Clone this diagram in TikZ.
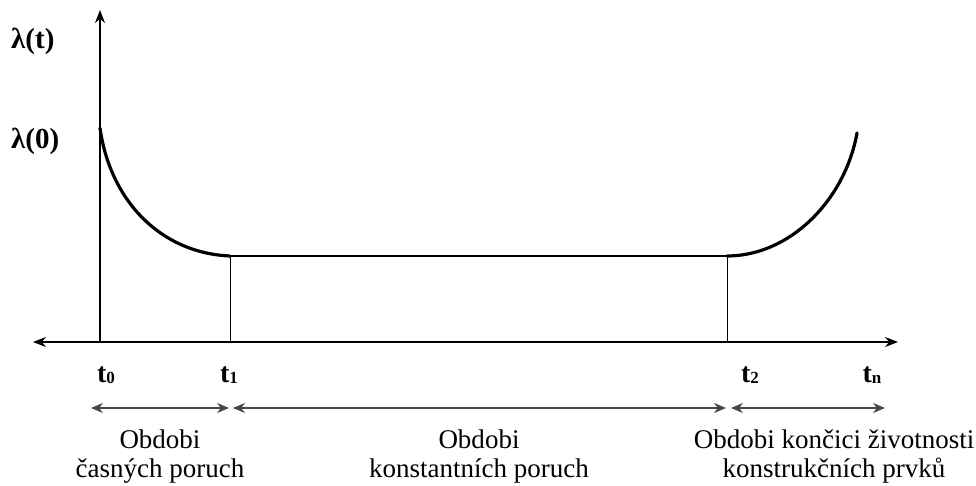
\documentclass[tikz,border=0pt]{standalone}
\usepackage{fontspec}
\setmainfont{Liberation Serif}
\usetikzlibrary{arrows.meta}
\begin{document}
\begin{tikzpicture}[x=1pt,y=-1pt,
  axisline/.style={line width=1.4pt,black,-{Stealth[length=13pt,width=10pt]}},
  curveline/.style={line width=3.2pt,black,line cap=round},
  flatline/.style={line width=2.2pt,black},
  marker/.style={line width=1pt,black},
  span/.style={line width=1.8pt,black!72,{Stealth[length=12pt,width=10pt]}-{Stealth[length=12pt,width=10pt]}},
  axislabel/.style={font=\fontsize{29}{30}\selectfont\bfseries,inner sep=0pt,anchor=west},
  tick/.style={font=\fontsize{28}{30}\selectfont\bfseries,inner sep=0pt,anchor=base},
  period/.style={font=\fontsize{27}{29}\selectfont,inner sep=0pt,anchor=north,align=center}]
\useasboundingbox (0,0) rectangle (976,486);

% key points of the bathtub curve
\coordinate (O) at (100,342);
\coordinate (ytop) at (100,10);
\coordinate (xleft) at (33,342);
\coordinate (xright) at (898,342);
\coordinate (L0) at (100,128);
\coordinate (A) at (230,256);
\coordinate (B) at (727,256);
\coordinate (E) at (857,133);
\coordinate (A0) at (230,342);
\coordinate (B0) at (727,342);

% axes
\draw[axisline] (O) -- (ytop);
\draw[axisline,{Stealth[length=13pt,width=10pt]}-{Stealth[length=13pt,width=10pt]}] (xleft) -- (xright);

% failure-rate curve
\draw[curveline] (L0) .. controls (110,200) and (160,253) .. (A);
\draw[flatline] (A) -- (B);
\draw[curveline] (B) .. controls (790,256) and (845,200) .. (E);
\draw[marker] (A) -- (A0);
\draw[marker] (B) -- (B0);

% axis labels
\node[axislabel] (lt) at (11,41) {λ(t)};
\node[axislabel] (l0) at (11,141) {λ(0)};

% time marks
\newcommand{\sbs}[1]{\raisebox{-0.15ex}{\fontsize{17}{17}\selectfont #1}}
\node[tick] (t0) at (106,382) {t\sbs{0}};
\node[tick] (t1) at (229,382) {t\sbs{1}};
\node[tick] (t2) at (750,382) {t\sbs{2}};
\node[tick] (tn) at (872,382) {t\sbs{n}};

% periods
\coordinate (p0) at (91,408);
\coordinate (p1) at (229,408);
\coordinate (p1b) at (233,408);
\coordinate (p2) at (726,408);
\coordinate (p2b) at (731,408);
\coordinate (p3) at (885,408);
\draw[span] (p0) -- (p1);
\draw[span] (p1b) -- (p2);
\draw[span] (p2b) -- (p3);

\node[period] (e1) at (160,430) {Obdobi\\časných poruch};
\node[period] (e2) at (479,430) {Obdobi\\konstantních poruch};
\node[period] (e3) at (834,430) {Obdobi končici životnosti\\konstrukčních prvků};
\end{tikzpicture}
\end{document}
